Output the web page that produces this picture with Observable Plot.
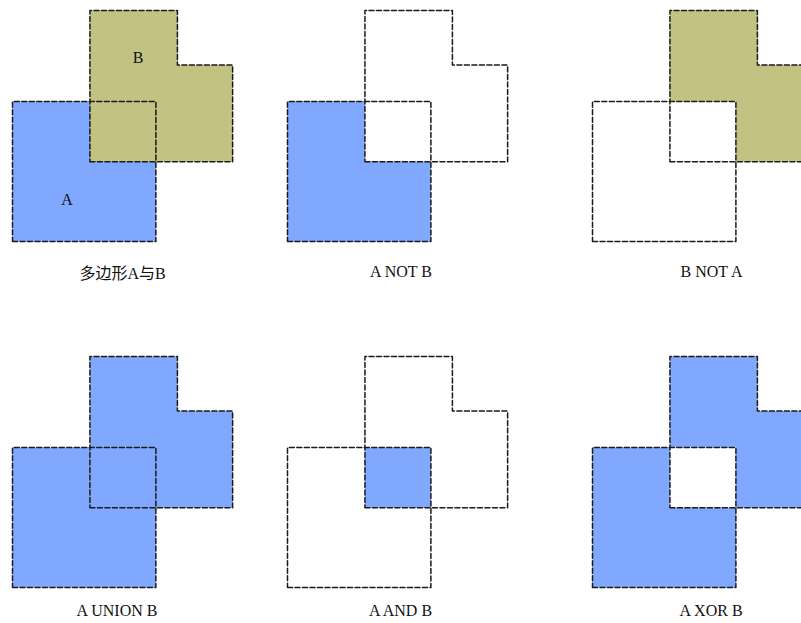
<!DOCTYPE html>
<html>
<head>
<meta charset="utf-8">
<script src="https://cdn.jsdelivr.net/npm/d3@7"></script>
<script src="https://cdn.jsdelivr.net/npm/@observablehq/plot@0.6"></script>
<style>
  html, body { margin: 0; padding: 0; background: #fff; }
  #stage { position: relative; width: 801px; height: 623px; overflow: hidden; background: #fff; }
  .panel { position: absolute; width: 250px; height: 250px; }
  .panel svg { max-width: none !important; }
  .cap { position: absolute; transform: translate(-50%, -50%); white-space: nowrap;
         font-family: "Liberation Serif", "Noto Sans CJK SC", serif; font-size: 16px; color: #111; }
</style>
</head>
<body>
<div id="stage"></div>
<script>
// Polygon vertices (abstract units, y up)
const polyA = [[0,0],[10,0],[10,10],[0,10]];
const polyB = [[5.4,5.7],[15.35,5.7],[15.35,12.6],[11.5,12.6],[11.5,16.5],[5.4,16.5]];
const polyANotB = [[0,0],[10,0],[10,5.7],[5.4,5.7],[5.4,10],[0,10]];
const polyBNotA = [[10,5.7],[15.35,5.7],[15.35,12.6],[11.5,12.6],[11.5,16.5],[5.4,16.5],[5.4,10],[10,10]];
const polyAAndB = [[5.4,5.7],[10,5.7],[10,10],[5.4,10]];
const polyAUnionB = [[0,0],[10,0],[10,5.7],[15.35,5.7],[15.35,12.6],[11.5,12.6],[11.5,16.5],[5.4,16.5],[5.4,10],[0,10]];
const shapeLabels = [{x: 3.8, y: 3.0, t: "A"}, {x: 8.75, y: 13.1, t: "B"}];
const titles = ["多边形A与B", "A NOT B", "B NOT A", "A UNION B", "A AND B", "A XOR B"];

const BLUE = "#80a8ff", OLIVE = "#c2c382";
const fillsPerPanel = [
  [[polyA, BLUE], [polyB, OLIVE]],
  [[polyANotB, BLUE]],
  [[polyBNotA, OLIVE]],
  [[polyAUnionB, BLUE]],
  [[polyAAndB, BLUE]],
  [[polyANotB, BLUE], [polyBNotA, BLUE]]
];

// layout (pixels)
const colLeft = [12.3, 286.7, 592.3];
const rowBottom = [241, 586.7];
const capPos = [[122.5, 272], [401, 272], [711.5, 272], [117, 611], [400.5, 611], [711, 611]];
const W = 250, H = 250, offX = 12, offY = 235, pxX = 14.34, pxY = 14.0;

const stage = document.getElementById("stage");
const X = d => d[0], Y = d => d[1];

titles.forEach((title, i) => {
  const col = i % 3, row = Math.floor(i / 3);
  const marks = [];
  for (const [poly, color] of fillsPerPanel[i]) {
    marks.push(Plot.line(poly, {x: X, y: Y, curve: "linear-closed", fill: color, stroke: "none"}));
  }
  for (const poly of [polyA, polyB]) {
    marks.push(Plot.line(poly, {x: X, y: Y, curve: "linear-closed", stroke: "#1a1a1a", strokeWidth: 1.5, strokeDasharray: "5,2.5", fill: "none"}));
  }
  if (i === 0) {
    marks.push(Plot.text(shapeLabels, {x: "x", y: "y", text: "t", fontSize: 16, fontFamily: "Liberation Serif, serif", fill: "#111"}));
  }
  const svg = Plot.plot({
    width: W, height: H,
    marginLeft: 0, marginRight: 0, marginTop: 0, marginBottom: 0,
    x: {domain: [-offX / pxX, (W - offX) / pxX], axis: null},
    y: {domain: [-(H - offY) / pxY, offY / pxY], axis: null},
    style: {background: "transparent", overflow: "visible", maxWidth: "none"},
    marks
  });
  svg.style.width = W + "px";
  svg.style.height = H + "px";
  const wrap = document.createElement("div");
  wrap.className = "panel";
  wrap.style.left = (colLeft[col] - offX) + "px";
  wrap.style.top = (rowBottom[row] - offY) + "px";
  wrap.appendChild(svg);
  stage.appendChild(wrap);

  const cap = document.createElement("div");
  cap.className = "cap";
  cap.style.left = capPos[i][0] + "px";
  cap.style.top = capPos[i][1] + "px";
  cap.textContent = title;
  stage.appendChild(cap);
});
</script>
</body>
</html>
